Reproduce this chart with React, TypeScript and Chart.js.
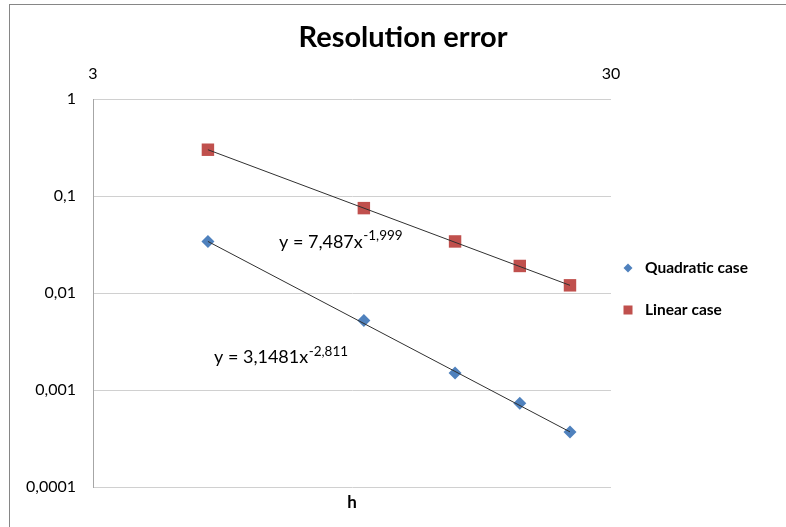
import React, { useEffect, useRef } from "react";
import { Chart, registerables } from "chart.js";

Chart.register(...registerables);

// ---- data ----
const hValues = [5, 10, 15, 20, 25];
const quadraticCase = [0.034, 0.0052, 0.0015, 0.00073, 0.00037];
const linearCase = [0.3, 0.075, 0.034, 0.019, 0.012];

// trendline end points (power law -> straight line on log-log)
const trendX = [5, 25];
const quadraticTrend = [0.034, 0.00037];
const linearTrend = [0.3, 0.012];

const xTickValues = [3, 30];
const yTickValues = [0.0001, 0.001, 0.01, 0.1, 1];

const chartTitle = "Resolution error";
const xTitle = "h";
const seriesNames = ["Quadratic case", "Linear case"];
const quadEq = { base: "y = 3,1481x", exp: "-2,811" };
const linEq = { base: "y = 7,487x", exp: "-1,999" };

const BLUE = "#4F81BD";
const RED = "#C0504D";
const FONT = "Lato, 'Open Sans', sans-serif";

const toPts = (xs: number[], ys: number[]) => xs.map((x, i) => ({ x, y: ys[i] }));

const decorPlugin = {
  id: "decor",
  afterDraw(chart: any) {
    const ctx = chart.ctx as CanvasRenderingContext2D;
    ctx.save();
    // outer chart border
    ctx.strokeStyle = "#868686";
    ctx.lineWidth = 1;
    ctx.strokeRect(9.5, 4.5, 800, 600);

    // title
    ctx.fillStyle = "#000";
    ctx.font = `bold 29px ${FONT}`;
    ctx.textAlign = "center";
    ctx.textBaseline = "middle";
    ctx.fillText(chartTitle, 403, 38);

    // x axis title
    const ca = chart.chartArea;
    ctx.font = `bold 17px ${FONT}`;
    ctx.fillText(xTitle, (ca.left + ca.right) / 2, 503);

    // legend
    ctx.textAlign = "left";
    ctx.font = `bold 15.5px ${FONT}`;
    // diamond
    ctx.fillStyle = BLUE;
    ctx.beginPath();
    ctx.moveTo(628, 263.5);
    ctx.lineTo(632.5, 268);
    ctx.lineTo(628, 272.5);
    ctx.lineTo(623.5, 268);
    ctx.closePath();
    ctx.fill();
    ctx.fillStyle = "#000";
    ctx.fillText(seriesNames[0], 645, 268);
    ctx.fillStyle = RED;
    ctx.fillRect(623.5, 305.5, 9, 9);
    ctx.fillStyle = "#000";
    ctx.fillText(seriesNames[1], 645, 310);

    // trendline equations
    const drawEq = (eq: { base: string; exp: string }, x: number, baseY: number, expY: number) => {
      ctx.textBaseline = "alphabetic";
      ctx.textAlign = "left";
      ctx.font = `18px ${FONT}`;
      ctx.fillText(eq.base, x, baseY);
      const w = ctx.measureText(eq.base).width;
      ctx.font = `13.5px ${FONT}`;
      ctx.fillText(eq.exp, x + w + 0.5, expY);
    };
    drawEq(linEq, 279, 248, 240);
    drawEq(quadEq, 214, 363, 356);
    ctx.restore();
  },
};

export default function App() {
  const ref = useRef<HTMLCanvasElement | null>(null);

  useEffect(() => {
    if (!ref.current) return;
    const chart = new Chart(ref.current, {
      type: "scatter",
      data: {
        datasets: [
          {
            label: "Quadratic trend",
            data: toPts(trendX, quadraticTrend),
            showLine: true,
            borderColor: "#303030",
            borderWidth: 1,
            pointRadius: 0,
            order: 0,
          },
          {
            label: "Linear trend",
            data: toPts(trendX, linearTrend),
            showLine: true,
            borderColor: "#303030",
            borderWidth: 1,
            pointRadius: 0,
            order: 0,
          },
          {
            label: seriesNames[0],
            data: toPts(hValues, quadraticCase),
            pointStyle: "rectRot",
            pointRadius: 6.5,
            backgroundColor: BLUE,
            borderColor: BLUE,
            borderWidth: 0,
            order: 1,
          },
          {
            label: seriesNames[1],
            data: toPts(hValues, linearCase),
            pointStyle: "rect",
            pointRadius: 8.8,
            backgroundColor: RED,
            borderColor: RED,
            borderWidth: 0,
            order: 1,
          },
        ],
      },
      options: {
        responsive: false,
        animation: false,
        devicePixelRatio: 1,
        layout: { padding: { left: 0, top: 0, right: 175, bottom: 40 } },
        plugins: {
          legend: { display: false },
          title: { display: false },
          tooltip: { enabled: false },
        },
        scales: {
          x: {
            type: "logarithmic",
            position: "top",
            min: 3,
            max: 30,
            grid: { display: false, drawTicks: false },
            border: { display: false },
            ticks: {
              autoSkip: false,
              maxRotation: 0,
              padding: 16,
              color: "#000",
              font: { family: FONT, size: 16 },
              callback: (v: any) => String(v),
            },
            afterBuildTicks: (s: any) => {
              s.ticks = xTickValues.map((value) => ({ value }));
            },
            afterFit: (s: any) => {
              s.height = 99;
            },
          },
          y: {
            type: "logarithmic",
            min: 0.0001,
            max: 1,
            grid: { color: "#D0D0D0", lineWidth: 1, drawTicks: false },
            border: { display: true, color: "#A6A6A6", width: 1 },
            ticks: {
              autoSkip: false,
              padding: 17,
              color: "#000",
              font: { family: FONT, size: 16 },
              callback: (v: any) => String(v).replace(".", ","),
            },
            afterBuildTicks: (s: any) => {
              s.ticks = yTickValues.map((value) => ({ value }));
            },
            afterFit: (s: any) => {
              s.width = 93;
            },
          },
        },
      },
      plugins: [decorPlugin],
    } as any);
    return () => chart.destroy();
  }, []);

  return (
    <canvas
      ref={ref}
      width={786}
      height={527}
      style={{ position: "fixed", left: 0, top: 0, display: "block", background: "#fff" }}
    />
  );
}
